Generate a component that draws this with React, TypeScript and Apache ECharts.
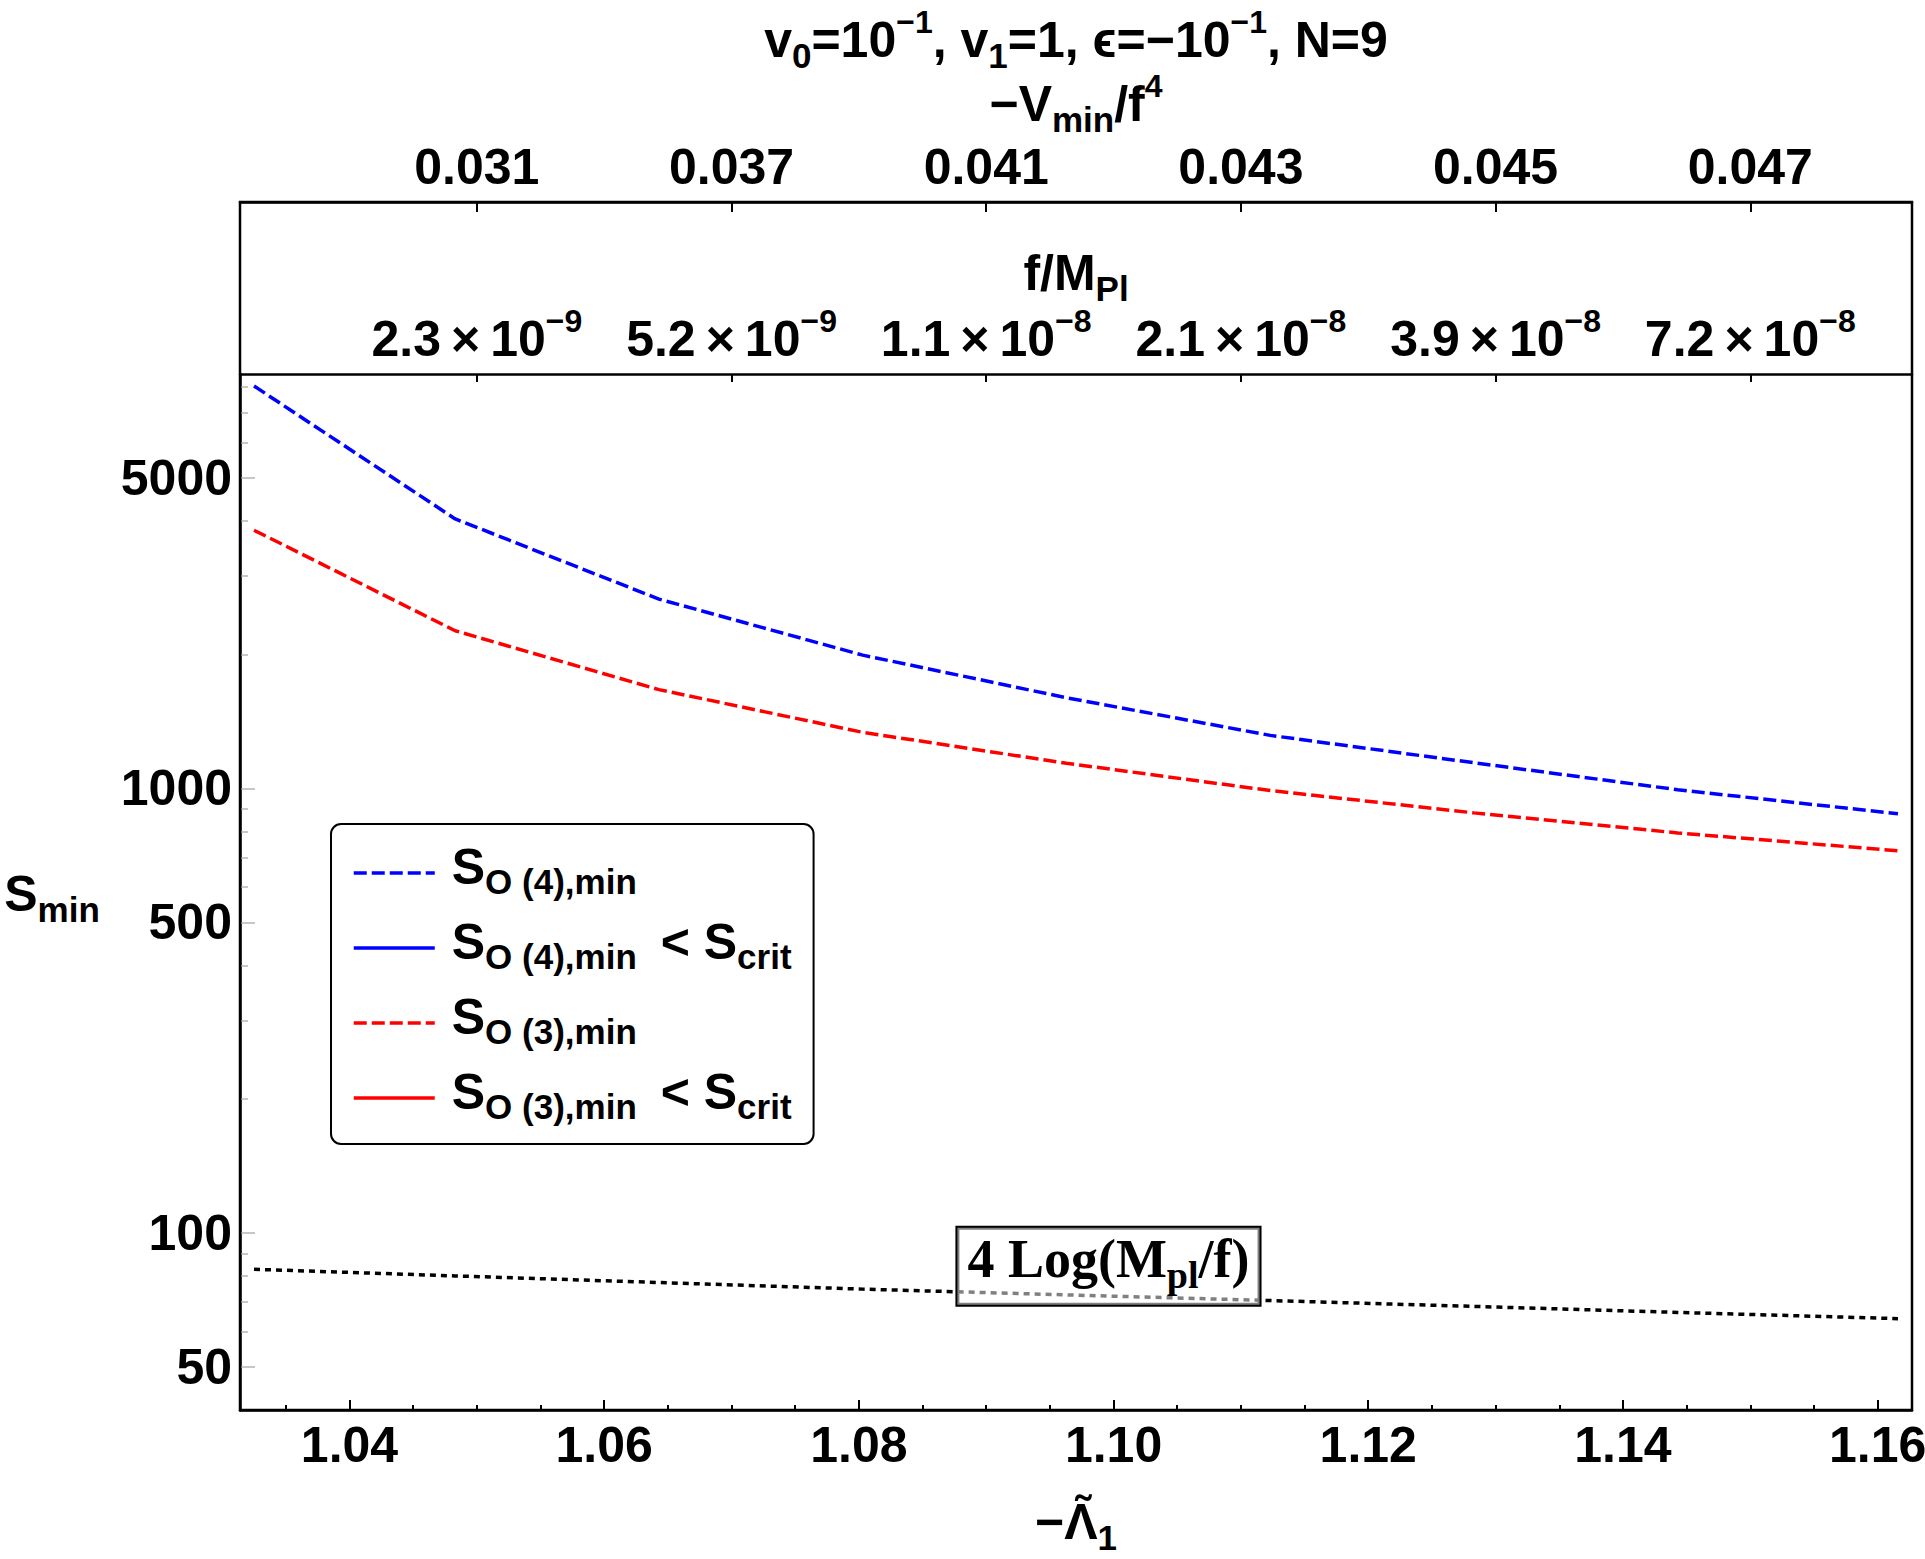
import React, { useEffect, useRef } from 'react';
import * as echarts from 'echarts';

// Sampled values of -Λ̃1 and the corresponding minimal actions
const LAMBDA = [1.0325, 1.0483, 1.0643, 1.0803, 1.0963, 1.1123, 1.1283, 1.1443, 1.1616];
const S_O4_MIN = [8035, 4037, 2665, 1994, 1599, 1316, 1142, 993, 877];
const S_O3_MIN = [3808, 2262, 1668, 1337, 1139, 989, 881, 794, 724];
const FOUR_LOG_MPL_F = [82.9, 80.1, 77.4, 74.8, 72.6, 70.5, 68.4, 66.3, 64.2];
// No point of this range lies below S_crit
const S_O4_BELOW_CRIT: [number, number][] = [];
const S_O3_BELOW_CRIT: [number, number][] = [];

// Axis ranges and ticks
const X_MIN = 1.0314;
const X_MAX = 1.1627;
const Y_MIN = 40;
const Y_MAX = 8550;
const X_MAJOR = [1.04, 1.06, 1.08, 1.1, 1.12, 1.14, 1.16];
const X_MINOR = [
  1.035, 1.045, 1.05, 1.055, 1.065, 1.07, 1.075, 1.085, 1.09, 1.095,
  1.105, 1.11, 1.115, 1.125, 1.13, 1.135, 1.145, 1.15, 1.155,
];
const TOP_TICKS = [1.05, 1.07, 1.09, 1.11, 1.13, 1.15];
const V_MIN_LABELS = ['0.031', '0.037', '0.041', '0.043', '0.045', '0.047'];
const F_MPL_MANTISSA = ['2.3', '5.2', '1.1', '2.1', '3.9', '7.2'];
const F_MPL_EXPONENT = ['−9', '−9', '−8', '−8', '−8', '−8'];
const Y_MAJOR = [50, 100, 500, 1000, 5000];
const Y_MINOR = [40, 60, 70, 80, 90, 200, 300, 400, 600, 700, 800, 900, 2000, 3000, 4000, 6000, 7000, 8000];
// Point of the 4 Log(Mpl/f) curve that carries its label
const LABEL_ANCHOR: [number, number] = [1.0996, 72.1];

const FONT = '"Liberation Sans", Arial, Helvetica, sans-serif';
const SERIF = '"Liberation Serif", "Times New Roman", serif';
const BLUE = '#0000ff';
const RED = '#ff0000';
const TICK_GREY = '#b4b4b4';

const GRID = { left: 240, top: 374, right: 13, bottom: 149 };
const FRAME_TOP = 202;
const W = 1925;
const H = 1559;

const lg = (v: number) => Math.log10(v);

const base = { fontFamily: FONT, fontWeight: 'bold' as const, color: '#000', fill: '#000' };
// Rich styles: one 60px line; main text, subscripts and superscripts are
// placed inside it through their box heights.
const RICH: any = {
  n: { ...base, fontSize: 50, lineHeight: 60, height: 56, verticalAlign: 'bottom' },
  sub: { ...base, fontSize: 35, lineHeight: 60, height: 25, verticalAlign: 'bottom' },
  sup: { ...base, fontSize: 32, lineHeight: 60, height: 28, verticalAlign: 'top' },
};
const LEGEND_RICH: any = {
  s0: { ...base, fontSize: 50, lineHeight: 70, height: 57, verticalAlign: 'top', padding: [0, 0, 0, 12] },
  s: { ...base, fontSize: 50, lineHeight: 70, height: 57, verticalAlign: 'top' },
  sub: { ...base, fontSize: 35, lineHeight: 70, height: 54, verticalAlign: 'bottom' },
};
const LEGEND_TEXT: Record<string, string> = {
  SO4: '{s0|S}{sub|O (4),min}',
  SO4crit: '{s0|S}{sub|O (4),min}{s| \u2009< S}{sub|crit}',
  SO3: '{s0|S}{sub|O (3),min}',
  SO3crit: '{s0|S}{sub|O (3),min}{s| \u2009< S}{sub|crit}',
};
const TITLE = '{n|v}{sub|0}{n|=10}{sup|−1}{n|, v}{sub|1}{n|=1, ϵ=−10}{sup|−1}{n|, N=9}';

const topIndex = (v: number) => TOP_TICKS.findIndex((t) => Math.abs(t - v) < 1e-9);

const tickLabel = {
  fontSize: 50,
  fontWeight: 'bold' as const,
  fontFamily: FONT,
  color: '#000',
};

const axisName = (name: string, gap: number, extra: any = {}) => ({
  name,
  nameLocation: 'middle',
  nameGap: gap,
  nameMoveOverlap: false,
  nameTextStyle: { rich: RICH, align: 'center', verticalAlign: 'middle' },
  ...extra,
});

const buildOption = (): any => {
  const plotW = W - GRID.left - GRID.right;
  const frameH = H - GRID.bottom - FRAME_TOP;
  const xBase = { type: 'value', min: X_MIN, max: X_MAX, splitLine: { show: false } };
  const yBase = { type: 'value', min: lg(Y_MIN), max: lg(Y_MAX), splitLine: { show: false } };
  const toPts = (vals: number[]) => LAMBDA.map((x, i) => [x, lg(vals[i])]);
  const dashed = (color: string) => ({ color, width: 3.5, type: [13, 5] });
  const solid = (color: string) => ({ color, width: 3.5, type: 'solid' });

  return {
    animation: false,
    backgroundColor: '#fff',
    grid: { ...GRID, containLabel: false, outerBoundsMode: 'none' },
    xAxis: [
      {
        ...xBase,
        position: 'bottom',
        axisLine: { show: true, lineStyle: { color: '#000', width: 2.5 } },
        axisTick: { show: true, inside: true, length: 10, lineStyle: { color: '#000', width: 2 }, customValues: X_MAJOR },
        axisLabel: {
          ...tickLabel,
          customValues: X_MAJOR,
          formatter: (v: number) => v.toFixed(2),
          margin: 35,
          verticalAlign: 'middle',
        },
        ...axisName('{n|−Λ\u0303}{sub|1}', 110),
      },
      {
        ...xBase,
        position: 'bottom',
        axisLine: { show: false },
        axisTick: { show: true, inside: true, length: 5, lineStyle: { color: '#000', width: 2 }, customValues: X_MINOR },
        axisLabel: { show: false },
      },
      {
        ...xBase,
        position: 'top',
        offset: 0,
        axisLine: { show: true, lineStyle: { color: '#000', width: 2.5 } },
        axisTick: { show: true, inside: true, length: 8, lineStyle: { color: '#000', width: 2 }, customValues: TOP_TICKS },
        axisLabel: {
          customValues: TOP_TICKS,
          formatter: (v: number) => {
            const i = topIndex(v);
            return i < 0 ? '' : `{n|${F_MPL_MANTISSA[i]}\u2009×\u200910}{sup|${F_MPL_EXPONENT[i]}}`;
          },
          rich: RICH,
          margin: 37.5,
          verticalAlign: 'middle',
        },
        ...axisName('{n|f/M}{sub|Pl}', 103),
      },
      {
        ...xBase,
        position: 'top',
        offset: GRID.top - FRAME_TOP,
        axisLine: { show: true, lineStyle: { color: '#000', width: 2.5 } },
        axisTick: { show: true, inside: true, length: 10, lineStyle: { color: '#000', width: 2 }, customValues: TOP_TICKS },
        axisLabel: {
          ...tickLabel,
          customValues: TOP_TICKS,
          formatter: (v: number) => {
            const i = topIndex(v);
            return i < 0 ? '' : V_MIN_LABELS[i];
          },
          margin: 35.5,
          verticalAlign: 'middle',
        },
        ...axisName('{n|−V}{sub|min}{n|/f}{sup|4}', 100),
      },
    ],
    yAxis: [
      {
        ...yBase,
        position: 'left',
        axisLine: { show: true, lineStyle: { color: '#000', width: 2.5 } },
        axisTick: { show: true, inside: true, length: 15, lineStyle: { color: TICK_GREY, width: 1.5 }, customValues: Y_MAJOR.map(lg) },
        axisLabel: {
          ...tickLabel,
          customValues: Y_MAJOR.map(lg),
          formatter: (v: number) => String(Math.round(Math.pow(10, v))),
          margin: 8,
        },
        ...axisName('{n|S}{sub|min}', 188, { nameRotate: 0 }),
      },
      {
        ...yBase,
        position: 'left',
        axisLine: { show: false },
        axisTick: { show: true, inside: true, length: 8, lineStyle: { color: TICK_GREY, width: 1.5 }, customValues: Y_MINOR.map(lg) },
        axisLabel: { show: false },
      },
    ],
    legend: {
      orient: 'vertical',
      left: 331,
      top: 824,
      data: ['SO4', 'SO4crit', 'SO3', 'SO3crit'],
      itemWidth: 81,
      itemHeight: 14,
      itemGap: 5,
      padding: [14, 22, 11, 21],
      borderColor: '#000',
      borderWidth: 2,
      borderRadius: 10,
      backgroundColor: '#fff',
      selectedMode: false,
      itemStyle: { opacity: 0 },
      lineStyle: { width: 3.5 },
      formatter: (name: string) => LEGEND_TEXT[name],
      textStyle: { ...tickLabel, rich: LEGEND_RICH },
    },
    graphic: [
      {
        type: 'rect',
        silent: true,
        z: 10,
        shape: { x: GRID.left, y: FRAME_TOP, width: plotW, height: frameH },
        style: { fill: 'none', stroke: '#000', lineWidth: 2.5 },
      },
      {
        type: 'text',
        silent: true,
        x: GRID.left + plotW / 2,
        y: 37.5,
        style: { text: TITLE, rich: RICH, align: 'center', verticalAlign: 'middle', fill: '#000' },
      },
    ],
    series: [
      {
        name: 'SO4',
        type: 'line',
        data: toPts(S_O4_MIN),
        symbol: 'none',
        silent: true,
        itemStyle: { color: BLUE },
        lineStyle: dashed(BLUE),
      },
      {
        name: 'SO4crit',
        type: 'line',
        data: S_O4_BELOW_CRIT,
        symbol: 'none',
        itemStyle: { color: BLUE },
        lineStyle: solid(BLUE),
      },
      {
        name: 'SO3',
        type: 'line',
        data: toPts(S_O3_MIN),
        symbol: 'none',
        silent: true,
        itemStyle: { color: RED },
        lineStyle: dashed(RED),
      },
      {
        name: 'SO3crit',
        type: 'line',
        data: S_O3_BELOW_CRIT,
        symbol: 'none',
        itemStyle: { color: RED },
        lineStyle: solid(RED),
      },
      {
        name: '4 Log(Mpl/f)',
        type: 'line',
        data: toPts(FOUR_LOG_MPL_F),
        symbol: 'none',
        silent: true,
        itemStyle: { color: '#000' },
        lineStyle: { color: '#000', width: 3.5, type: [6, 5] },
        markPoint: {
          silent: true,
          symbol: 'rect',
          symbolSize: 1,
          itemStyle: { color: 'rgba(0,0,0,0)' },
          data: [{ coord: [LABEL_ANCHOR[0], lg(LABEL_ANCHOR[1])] }],
          label: {
            show: true,
            position: 'inside',
            offset: [0, -30],
            formatter: '{a|4 Log(M}{b|pl}{a|/f)}',
            backgroundColor: 'rgba(255,255,255,0.5)',
            borderColor: '#000',
            borderWidth: 2,
            padding: [4, 10, 9, 10],
            rich: {
              a: { fontFamily: SERIF, fontWeight: 'bold', fontSize: 54, lineHeight: 64, height: 54, verticalAlign: 'top', color: '#000' },
              b: { fontFamily: SERIF, fontWeight: 'bold', fontSize: 38, lineHeight: 64, height: 41, verticalAlign: 'bottom', color: '#000' },
            },
          },
        },
      },
    ],
  };
};

export default function App() {
  const ref = useRef<HTMLDivElement>(null);
  useEffect(() => {
    if (!ref.current) return;
    const chart = echarts.init(ref.current, null, { renderer: 'svg' });
    chart.setOption(buildOption());
    return () => chart.dispose();
  }, []);
  return (
    <div
      ref={ref}
      style={{ position: 'fixed', left: 0, top: 0, width: W, height: H, background: '#fff' }}
    />
  );
}
